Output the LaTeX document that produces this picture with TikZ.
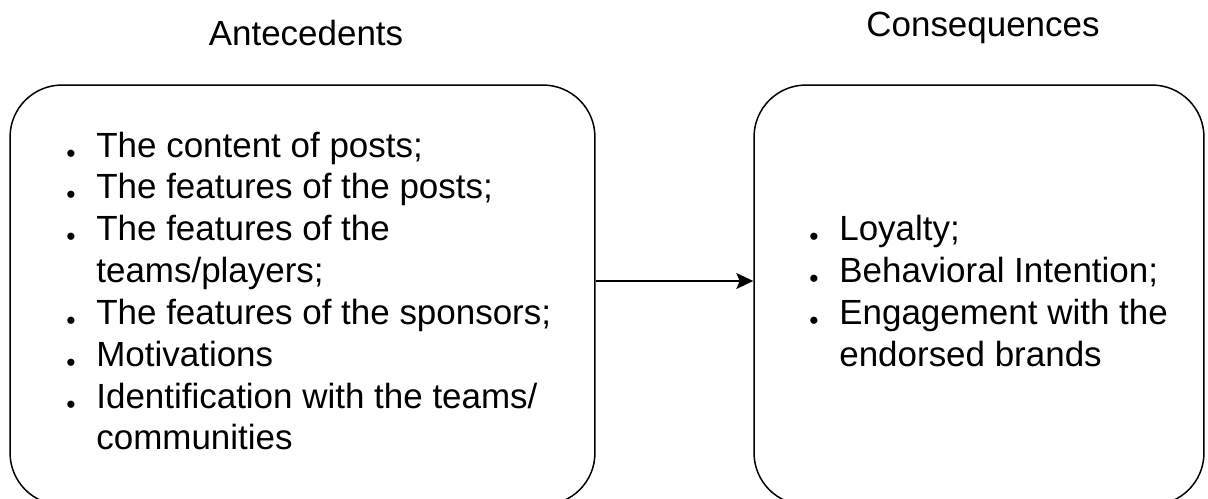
\documentclass[tikz,border=0pt]{standalone}
\usepackage{fontspec}
\setmainfont{Liberation Sans}
\usetikzlibrary{arrows.meta, positioning}
\tikzset{
    myarrow/.style={-{Stealth[length=0.34cm, width=0.32cm, inset=0.07cm]}, line width=0.9pt},
    roundbox/.style={draw, line width=0.85pt, rounded corners=1.04cm, minimum height=8.4cm},
    heading/.style={font=\fontsize{19.9}{23.8}\selectfont, inner sep=0pt, anchor=base},
    itemlist/.style={font=\fontsize{19.9}{23.8}\selectfont, align=left, inner sep=0pt, anchor=west}
}
\newcommand{\bul}{\makebox[0.6cm][l]{\raisebox{-0.1cm}{\fontsize{15}{15}\selectfont\textbullet}}}
\newcommand{\hang}{\hspace*{0.6cm}}

\begin{document}
\begin{tikzpicture}[x=0.02cm, y=-0.02cm]
    \useasboundingbox (0,0) rectangle (1208,499);
    \node (ante) [roundbox, minimum width=11.7cm] at (302.5,295) {};
    \node (cons) [roundbox, minimum width=9cm] at (979,295) {};
    \node (antetitle) [heading] at (306,46) {Antecedents};
    \node (constitle) [heading] at (983,37) {Consequences};
    \node (antelist) [itemlist] at (66,291) {
        \bul The content of posts;\\
        \bul The features of the posts;\\
        \bul The features of the\\
        \hang teams/players;\\
        \bul The features of the sponsors;\\
        \bul Motivations\\
        \bul Identification with the teams/\\
        \hang communities};
    \node (conslist) [itemlist] at (809,291) {
        \bul Loyalty;\\
        \bul Behavioral Intention;\\
        \bul Engagement with the\\
        \hang endorsed brands};
    \draw [myarrow] ([yshift=0.28cm]ante.east) -- ([yshift=0.28cm]cons.west);
\end{tikzpicture}
\end{document}
